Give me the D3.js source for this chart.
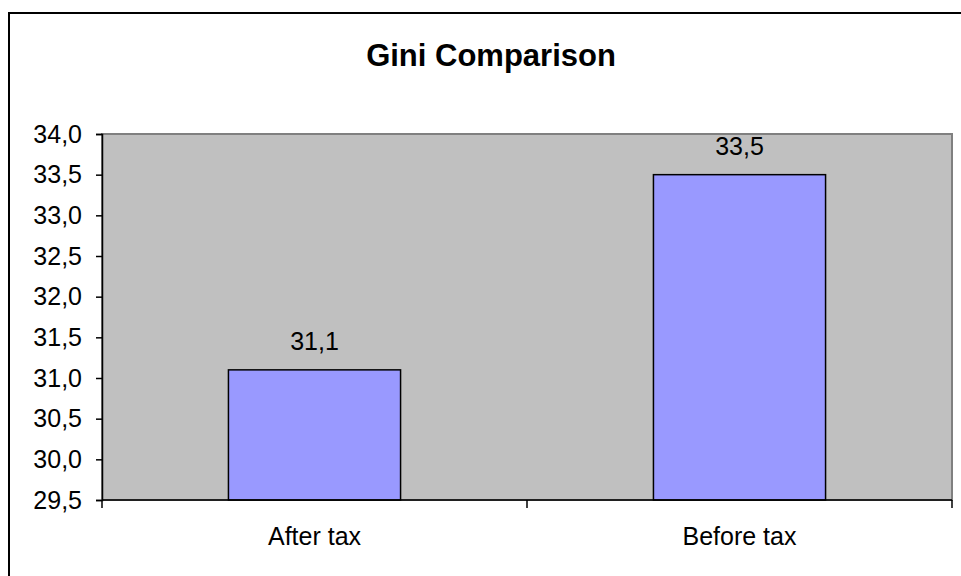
<!DOCTYPE html>
<html>
<head>
<meta charset="utf-8">
<script src="https://cdn.jsdelivr.net/npm/d3@7"></script>
<style>
  body { margin: 0; background: #fff; }
  svg { display: block; font-family: Arial, "Liberation Sans", sans-serif; }
</style>
</head>
<body>
<svg id="chart" width="961" height="576"></svg>
<script>
// chart data
const categories = ["After tax", "Before tax"];
const giniValues = [31.1, 33.5];
const yTicks = [29.5, 30.0, 30.5, 31.0, 31.5, 32.0, 32.5, 33.0, 33.5, 34.0];
const chartTitle = "Gini Comparison";

const svg = d3.select("#chart");
const fmt = v => d3.format(".1f")(v).replace(".", ",");

// outer chart frame (runs off the right and bottom edge)
svg.append("rect")
  .attr("x", 9).attr("y", 13)
  .attr("width", 980).attr("height", 600)
  .attr("fill", "none")
  .attr("stroke", "#000")
  .attr("stroke-width", 2);

const plot = {left: 102, right: 952, top: 134, bottom: 500};

const x = d3.scaleBand()
  .domain(categories)
  .range([plot.left, plot.right])
  .paddingInner(0.595)
  .paddingOuter(0.2975);

const y = d3.scaleLinear()
  .domain([29.5, 34])
  .range([plot.bottom, plot.top]);

// title
svg.append("text")
  .attr("x", 491).attr("y", 66)
  .attr("text-anchor", "middle")
  .attr("font-weight", "bold")
  .attr("font-size", 31)
  .text(chartTitle);

// plot area
svg.append("rect")
  .attr("x", plot.left).attr("y", plot.top)
  .attr("width", plot.right - plot.left)
  .attr("height", plot.bottom - plot.top)
  .attr("fill", "#c0c0c0")
  .attr("stroke", "#808080")
  .attr("stroke-width", 2);

// bars
svg.selectAll("rect.bar")
  .data(categories)
  .join("rect")
  .attr("class", "bar")
  .attr("x", d => x(d))
  .attr("width", x.bandwidth())
  .attr("y", (d, i) => y(giniValues[i]))
  .attr("height", (d, i) => y(29.5) - y(giniValues[i]))
  .attr("fill", "#9999ff")
  .attr("stroke", "#000")
  .attr("stroke-width", 1.5);

// value labels
svg.selectAll("text.val")
  .data(categories)
  .join("text")
  .attr("class", "val")
  .attr("x", d => x(d) + x.bandwidth() / 2)
  .attr("y", (d, i) => y(giniValues[i]) - 20)
  .attr("text-anchor", "middle")
  .attr("font-size", 25)
  .text((d, i) => fmt(giniValues[i]));

// y axis
const yAxis = svg.append("g")
  .attr("transform", `translate(${plot.left},0)`)
  .call(d3.axisLeft(y).tickValues(yTicks).tickFormat(fmt).tickSize(6).tickPadding(14));
yAxis.select(".domain").attr("stroke", "#000").attr("stroke-width", 1.5);
yAxis.selectAll(".tick line").attr("stroke", "#000").attr("stroke-width", 1.5);
yAxis.selectAll(".tick text")
  .attr("font-size", 25)
  .attr("font-family", "Arial, 'Liberation Sans', sans-serif")
  .attr("fill", "#000");

// x axis: tick marks between categories
const xAxis = svg.append("g")
  .attr("transform", `translate(0,${plot.bottom})`);
xAxis.append("line")
  .attr("x1", plot.left).attr("x2", plot.right)
  .attr("stroke", "#000").attr("stroke-width", 1.5);
xAxis.selectAll("line.tk")
  .data([0, 1, 2])
  .join("line")
  .attr("class", "tk")
  .attr("x1", i => plot.left + i * (plot.right - plot.left) / categories.length)
  .attr("x2", i => plot.left + i * (plot.right - plot.left) / categories.length)
  .attr("y1", 0).attr("y2", 8)
  .attr("stroke", "#000").attr("stroke-width", 1.5);
xAxis.selectAll("text")
  .data(categories)
  .join("text")
  .attr("x", d => x(d) + x.bandwidth() / 2)
  .attr("y", 45)
  .attr("text-anchor", "middle")
  .attr("font-size", 25)
  .text(d => d);
</script>
</body>
</html>
